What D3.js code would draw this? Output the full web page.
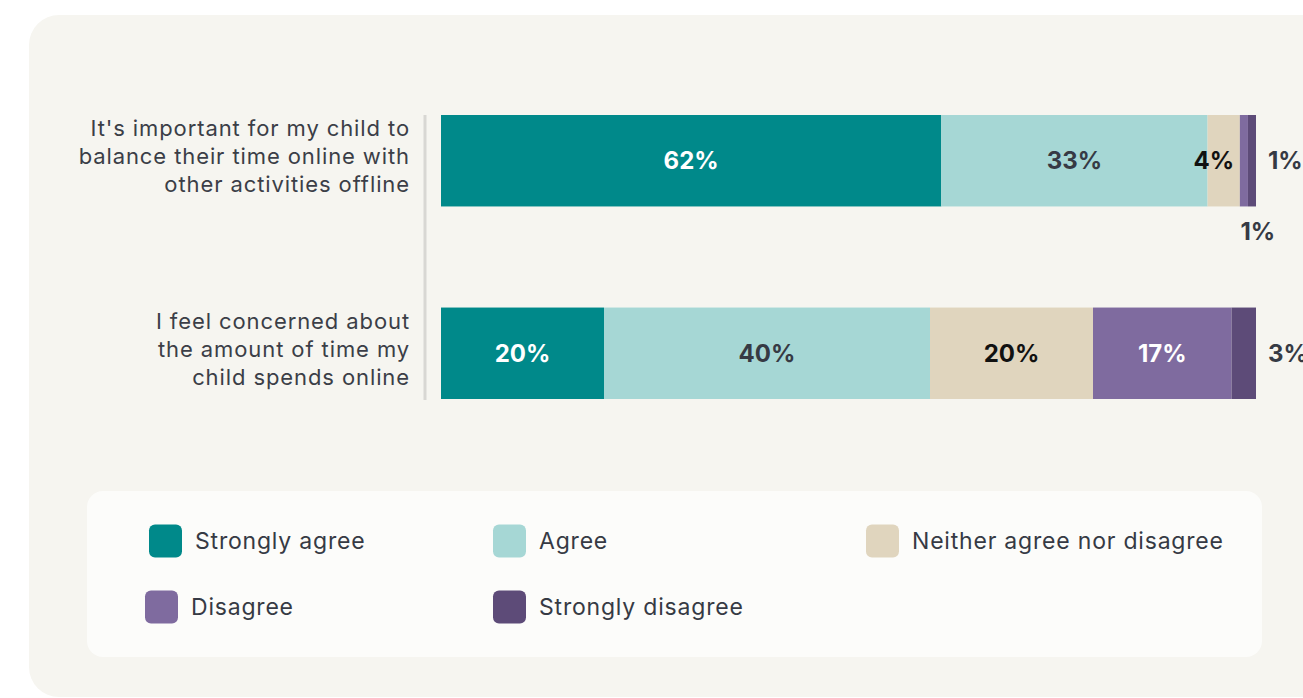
<!DOCTYPE html>
<html>
<head>
<meta charset="utf-8">
<script src="https://cdn.jsdelivr.net/npm/d3@7"></script>
<style>
  html, body { margin: 0; padding: 0; background: #ffffff; }
  svg { display: block; }
  text { font-family: "Inter", "Noto Sans", sans-serif; }
</style>
</head>
<body>
<svg id="chart" width="1303" height="698"></svg>
<script>
// Survey statements (one label line per entry)
const categories = ["balance", "concerned"];
const categoryLines = [
  ["It's important for my child to", "balance their time online with", "other activities offline"],
  ["I feel concerned about", "the amount of time my", "child spends online"]
];

// Response scale, in stacking order
const responses = ["Strongly agree", "Agree", "Neither agree nor disagree", "Disagree", "Strongly disagree"];

// Percentages per statement
const stronglyAgree = [62, 20];
const agree = [33, 40];
const neither = [4, 20];
const disagree = [1, 17];
const stronglyDisagree = [1, 3];

const colours = ["#00898a", "#a6d7d5", "#e0d5be", "#7f6b9f", "#5d4b78"];
const labelColours = ["#ffffff", "#363a44", "#111111", "#ffffff", "#363a44"];

const rows = categories.map((c, i) => ({
  category: c,
  "Strongly agree": stronglyAgree[i],
  "Agree": agree[i],
  "Neither agree nor disagree": neither[i],
  "Disagree": disagree[i],
  "Strongly disagree": stronglyDisagree[i]
}));

const svg = d3.select("#chart");

// Card background
svg.append("rect")
  .attr("x", 29).attr("y", 15)
  .attr("width", 1330).attr("height", 682)
  .attr("rx", 30)
  .attr("fill", "#f6f5f0");

const stacked = d3.stack()
  .keys(responses)
  .offset(d3.stackOffsetExpand)(rows);

const x = d3.scaleLinear().domain([0, 1]).range([441, 1256]);
const y = d3.scaleBand().domain(categories).range([115, 399]).paddingInner(0.525).paddingOuter(0);
const colour = d3.scaleOrdinal().domain(responses).range(colours);

// Vertical baseline on the left of the bars
svg.append("line")
  .attr("x1", 425).attr("x2", 425)
  .attr("y1", y.range()[0]).attr("y2", y.range()[1] + 1)
  .attr("stroke", "#d8d7d3").attr("stroke-width", 3);

// Category labels
const catG = svg.append("g");
categories.forEach((c, i) => {
  const cy = y(c) + y.bandwidth() / 2;
  const lines = categoryLines[i];
  catG.append("text")
    .attr("x", 410)
    .attr("text-anchor", "end")
    .attr("font-size", 22)
    .attr("letter-spacing", 0.9)
    .attr("fill", "#3b3e47")
    .selectAll("tspan")
    .data(lines)
    .join("tspan")
    .attr("x", 410)
    .attr("y", (d, j) => cy - 4 + (j - (lines.length - 1) / 2) * 28)
    .attr("dy", "0.35em")
    .text(d => d);
});

// Stacked segments
const layers = svg.append("g").selectAll("g")
  .data(stacked)
  .join("g")
  .attr("fill", d => colour(d.key));

layers.selectAll("rect")
  .data(d => d.map(p => ({ p, key: d.key })))
  .join("rect")
  .attr("x", d => x(d.p[0]))
  .attr("y", d => y(d.p.data.category))
  .attr("width", d => x(d.p[1]) - x(d.p[0]))
  .attr("height", y.bandwidth());

// Value labels
const lastKey = responses[responses.length - 1];
const labelG = svg.append("g")
  .attr("font-weight", 700)
  .attr("font-size", 24);

stacked.forEach((layer, k) => {
  layer.forEach(p => {
    const v = p.data[layer.key];
    const x0 = x(p[0]), x1 = x(p[1]);
    const cy = y(p.data.category) + y.bandwidth() / 2;
    let tx, ty, anchor = "middle", fill = labelColours[k];
    if (layer.key === lastKey) {
      tx = x(1) + 12; ty = cy; anchor = "start"; fill = "#363a44";
    } else if (v < 2) {
      tx = (x0 + x1) / 2 + 14; ty = y(p.data.category) + y.bandwidth() + 25; fill = "#363a44";
    } else {
      tx = (x0 + x1) / 2 - (x1 - x0 < 40 ? 10 : 0); ty = cy;
    }
    labelG.append("text")
      .attr("x", tx).attr("y", ty)
      .attr("dy", "0.35em")
      .attr("text-anchor", anchor)
      .attr("fill", fill)
      .text(v + "%");
  });
});

// Legend panel
svg.append("rect")
  .attr("x", 87).attr("y", 491)
  .attr("width", 1175).attr("height", 166)
  .attr("rx", 16)
  .attr("fill", "#fcfcfa");

const legendPos = [
  { x: 149, y: 541 },
  { x: 493, y: 541 },
  { x: 866, y: 541 },
  { x: 145, y: 607 },
  { x: 493, y: 607 }
];

const legend = svg.append("g").selectAll("g")
  .data(responses)
  .join("g")
  .attr("transform", (d, i) => `translate(${legendPos[i].x},${legendPos[i].y})`);

legend.append("rect")
  .attr("x", 0).attr("y", -16.5)
  .attr("width", 33).attr("height", 33)
  .attr("rx", 6)
  .attr("fill", d => colour(d));

legend.append("text")
  .attr("x", 46).attr("y", 0)
  .attr("dy", "0.35em")
  .attr("font-size", 23)
  .attr("letter-spacing", 0.8)
  .attr("fill", "#363a44")
  .text(d => d);
</script>
</body>
</html>
